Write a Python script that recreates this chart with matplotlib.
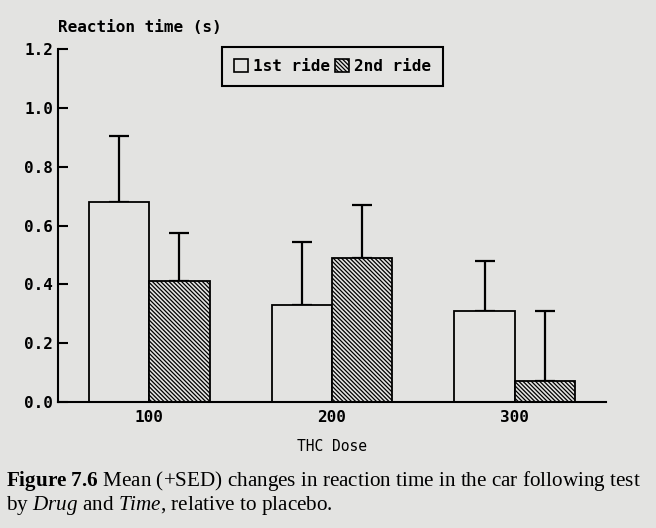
import matplotlib
matplotlib.use("Agg")
import matplotlib.pyplot as plt
from matplotlib.patches import Patch
import numpy as np

# ---- data ----
doses = ["100", "200", "300"]
ride1 = [0.68, 0.33, 0.31]
ride2 = [0.41, 0.49, 0.07]
sed1 = [0.225, 0.215, 0.17]
sed2 = [0.165, 0.18, 0.24]
series_labels = ["1st ride", "2nd ride"]
yticks = [0.0, 0.2, 0.4, 0.6, 0.8, 1.0, 1.2]

BG = "#e3e3e1"
MONO = "DejaVu Sans Mono"
HATCH = "\\" * 8

plt.rcParams["hatch.linewidth"] = 0.9
plt.rcParams["mathtext.fontset"] = "custom"
plt.rcParams["mathtext.rm"] = "Liberation Serif"
plt.rcParams["mathtext.it"] = "Liberation Serif:italic"
plt.rcParams["mathtext.bf"] = "Liberation Serif:bold"

fig = plt.figure(figsize=(6.56, 5.28), dpi=100, facecolor=BG)
ax = fig.add_axes([58/656, 1-402/528, (606-58)/656, (402-49)/528])
ax.set_facecolor(BG)

x = np.arange(1, len(doses) + 1)
w = 0.33
ax.bar(x - w/2, ride1, width=w, facecolor=BG, edgecolor="black", linewidth=1.3, zorder=2)
ax.bar(x + w/2, ride2, width=w, facecolor=BG, edgecolor="black", linewidth=1.3,
       hatch=HATCH, zorder=2)
ax.errorbar(x - w/2, ride1, yerr=[np.zeros(3), sed1], fmt="none", ecolor="black",
            elinewidth=1.6, capsize=7, capthick=1.6, zorder=1)
ax.errorbar(x + w/2, ride2, yerr=[np.zeros(3), sed2], fmt="none", ecolor="black",
            elinewidth=1.6, capsize=7, capthick=1.6, zorder=1)

ax.set_xlim(0.5, 3.5)
ax.set_ylim(0, 1.2)
for s in ["top", "right"]:
    ax.spines[s].set_visible(False)
for s in ["left", "bottom"]:
    ax.spines[s].set_linewidth(1.5)

ax.set_yticks(yticks)
ax.set_yticklabels([f"{v:.1f}" for v in yticks], family=MONO, fontweight="bold", fontsize=11.5)
ax.tick_params(axis="y", direction="in", length=7, width=1.5, pad=3.5)
ax.set_xticks(x)
ax.set_xticklabels(doses, family=MONO, fontweight="bold", fontsize=11.5)
ax.tick_params(axis="x", length=0, pad=6)

ax.set_xlabel("THC Dose", family=MONO, fontsize=10.5, labelpad=10)
fig.text(58/656, 1-32/528, "Reaction time (s)", family=MONO, fontweight="bold",
         fontsize=11.5, ha="left", va="baseline")

handles = [Patch(facecolor=BG, edgecolor="black", linewidth=1.2),
           Patch(facecolor=BG, edgecolor="black", linewidth=1.2, hatch=HATCH)]
leg = ax.legend(handles, series_labels, ncol=2, loc="upper left",
                bbox_to_anchor=(0.299, 1.006), frameon=True, fancybox=False,
                prop={"family": MONO, "weight": "bold", "size": 11.5},
                handlelength=0.9, handleheight=0.9, handletextpad=0.3,
                columnspacing=0.3, borderpad=0.75, borderaxespad=0)
leg.get_frame().set_edgecolor("black")
leg.get_frame().set_linewidth(1.5)
leg.get_frame().set_facecolor(BG)
leg.get_frame().set_alpha(1)

fig.text(6/656, 1-486/528,
         r"$\mathbf{Figure\ 7.6}$ Mean (+SED) changes in reaction time in the car following test",
         family="Liberation Serif", fontsize=15.2, ha="left", va="baseline")
fig.text(6/656, 1-510/528,
         r"by $\mathit{Drug}$ and $\mathit{Time}$, relative to placebo.",
         family="Liberation Serif", fontsize=15.2, ha="left", va="baseline")

fig.savefig("out.png", dpi=100, facecolor=BG)
